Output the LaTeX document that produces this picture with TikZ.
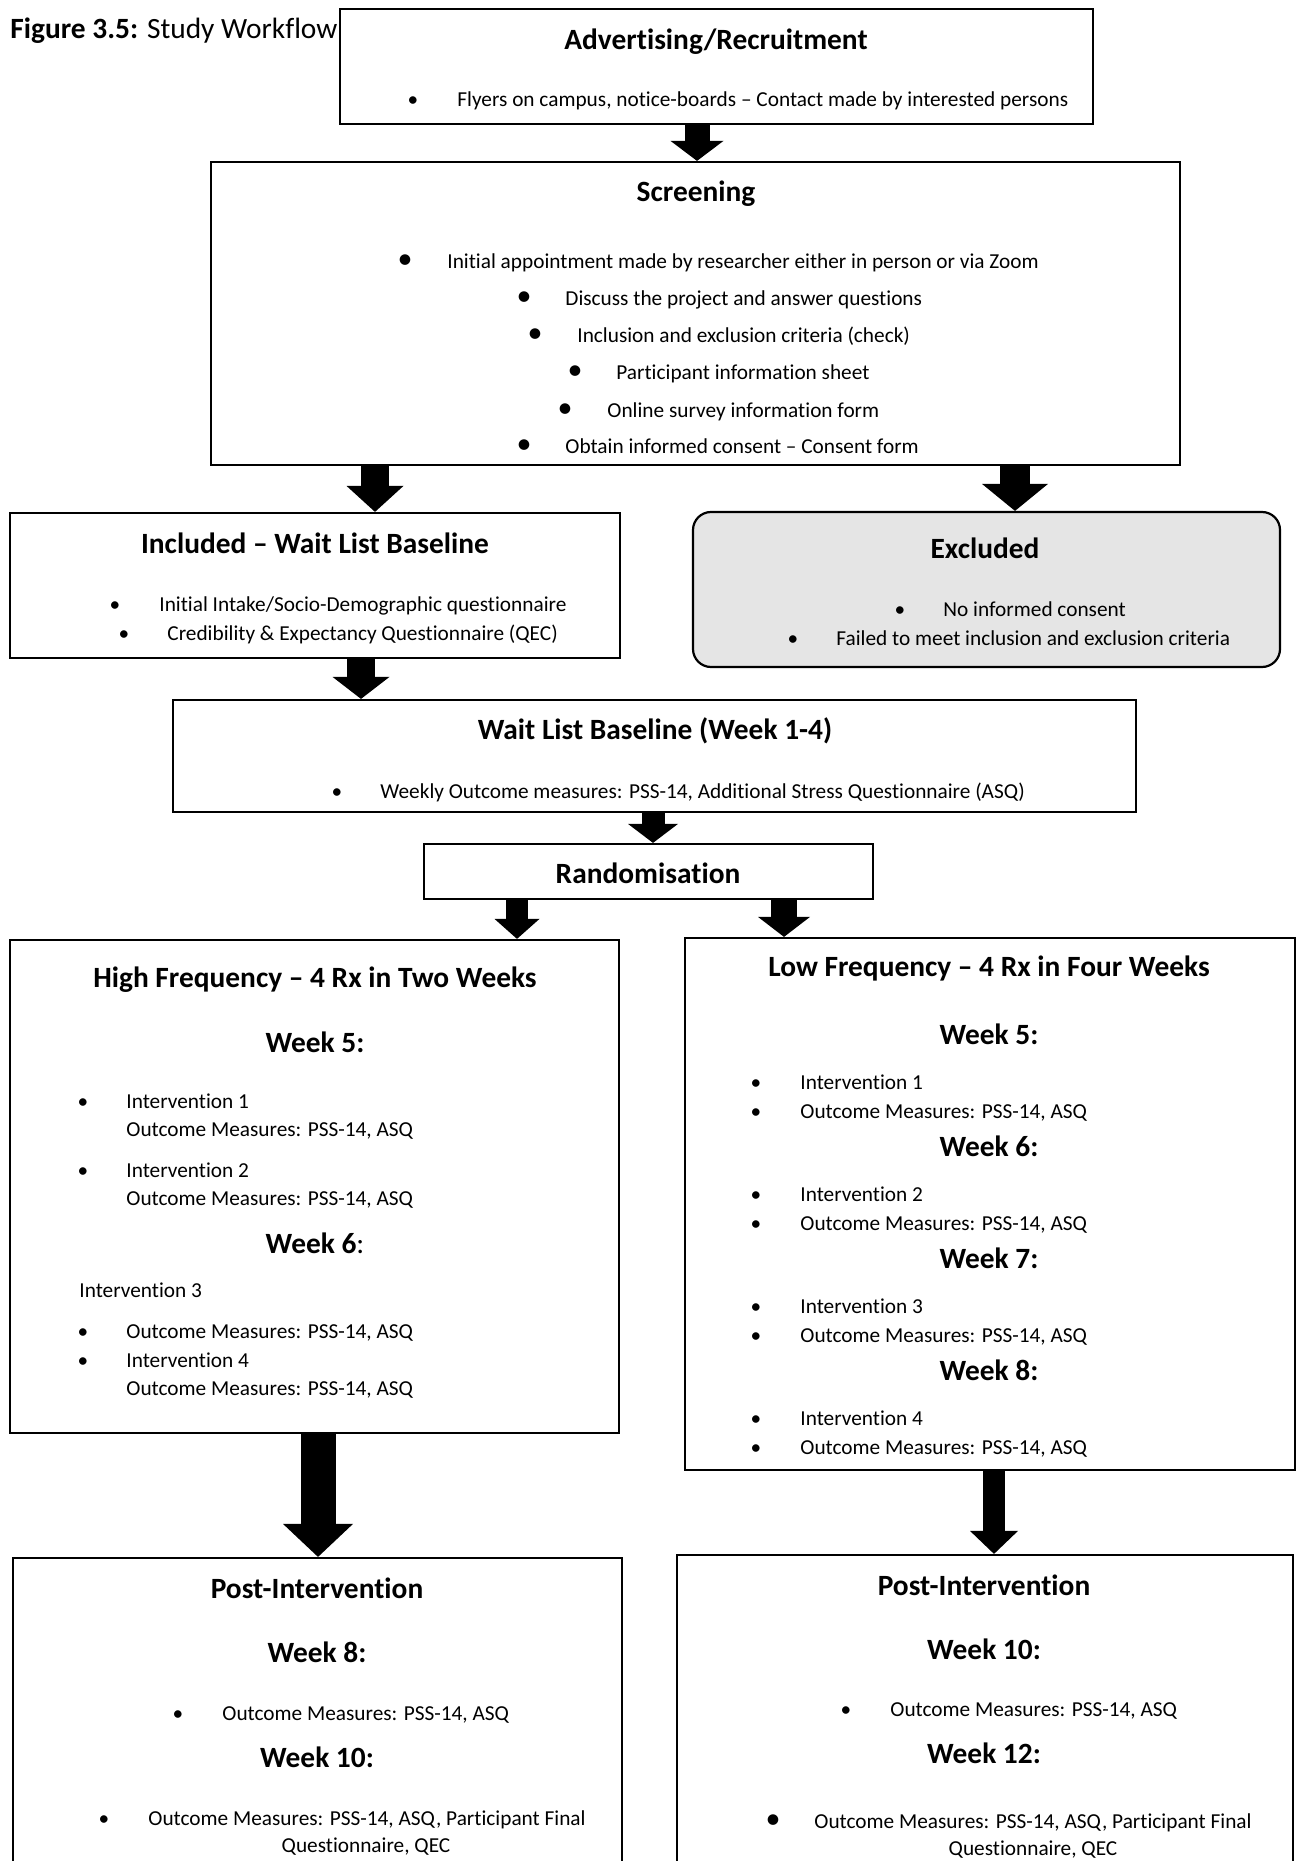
\documentclass[tikz,border=0pt]{standalone}
\usepackage{fontspec}
\setmainfont{Carlito}[Ligatures=NoCommon]
\usetikzlibrary{arrows.meta,fit}

\begin{document}
\begin{tikzpicture}[
  x=0.5pt, y=-0.5pt,
  font=\fontsize{10.65}{12.8}\selectfont,
  box/.style  = {draw=black, line width=1.1pt, inner sep=0pt},
  grey/.style = {rounded corners=9pt, fill=black!10},
  hd/.style   = {anchor=base, inner sep=0pt, font=\fontsize{14.7}{17}\selectfont\bfseries},
  txt/.style  = {anchor=base west, inner sep=0pt},
  ctr/.style  = {anchor=base, inner sep=0pt},
  bul/.style  = {anchor=base, inner sep=0pt},
  dot/.style  = {anchor=base, inner sep=0pt, font=\fontsize{15}{15}\selectfont},
  fat/.style n args={3}{line width=#1, -{Triangle[width=#2,length=#3,line width=0pt]}},
]
\useasboundingbox (0,0) rectangle (1300,1861);
\clip (0,0) rectangle (1300,1861);

\node[txt, font=\fontsize{14.7}{17}\selectfont] (title) at (10,39) {\textbf{Figure 3.5:} Study Workflow};

% ---- recruitment / screening -------------------------------------------------
\node[box, fit={(340,9) (1093,124)}] (advert) {};
\node[hd]  (advert-h) at (716,50)  {Advertising/Recruitment};
\node[bul] (advert-b) at (413,107) {•};
\node[txt] (advert-t) at (457,107) {Flyers on campus, notice-boards – Contact made by interested persons};

\node[box, fit={(211,162) (1180,465)}] (screen) {};
\node[hd] (screen-h) at (696,202) {Screening};
\foreach \bx/\tx/\yy/\lab [count=\i] in {
    405/447/269/{Initial appointment made by researcher either in person or via Zoom},
    524/565/306/{Discuss the project and answer questions},
    535/577/343/{Inclusion and exclusion criteria (check)},
    575/616/380/{Participant information sheet},
    565/607/418/{Online survey information form},
    524/565/454/{Obtain informed consent – Consent form}}
{
  \node[dot] (screen-b\i) at (\bx,\yy) {•};
  \node[txt] (screen-t\i) at (\tx,\yy) {\lab};
}

% ---- included / excluded -----------------------------------------------------
\node[box, fit={(10,513) (620,658)}] (incl) {};
\node[hd]  (incl-h)  at (315,553) {Included – Wait List Baseline};
\node[bul] (incl-b1) at (115,611) {•};
\node[txt] (incl-t1) at (159,611) {Initial Intake/Socio-Demographic questionnaire};
\node[bul] (incl-b2) at (124,640) {•};
\node[txt] (incl-t2) at (167,640) {Credibility \& Expectancy Questionnaire (QEC)};

\node[box, grey, fit={(693,512) (1280,667)}] (excl) {};
\node[hd]  (excl-h)  at (985,558) {Excluded};
\node[bul] (excl-b1) at (900,616) {•};
\node[txt] (excl-t1) at (943,616) {No informed consent};
\node[bul] (excl-b2) at (793,645) {•};
\node[txt] (excl-t2) at (836,645) {Failed to meet inclusion and exclusion criteria};

% ---- baseline / randomisation ------------------------------------------------
\node[box, fit={(173,700) (1136,812)}] (wait) {};
\node[hd]  (wait-h) at (655,739) {Wait List Baseline (Week 1-4)};
\node[bul] (wait-b) at (337,798) {•};
\node[txt] (wait-t) at (380,798) {Weekly Outcome measures: PSS-14, Additional Stress Questionnaire (ASQ)};

\node[box, fit={(424,844) (873,899)}] (rand) {};
\node[hd] (rand-h) at (648,883) {Randomisation};

% ---- high frequency arm ------------------------------------------------------
\node[box, fit={(10,940) (619,1433)}] (high) {};
\node[hd]  (high-h)  at (315,987)  {High Frequency – 4 Rx in Two Weeks};
\node[hd]  (high-w5) at (315,1052) {Week 5:};
\node[bul] (high-b1) at (83,1108)  {•};
\node[txt] (high-i1) at (126,1108) {Intervention 1};
\node[txt] (high-o1) at (126,1136) {Outcome Measures: PSS-14, ASQ};
\node[bul] (high-b2) at (83,1177)  {•};
\node[txt] (high-i2) at (126,1177) {Intervention 2};
\node[txt] (high-o2) at (126,1205) {Outcome Measures: PSS-14, ASQ};
\node[hd]  (high-w6) at (315,1253) {Week 6\textmd{:}};
\node[txt] (high-i3) at (79,1297)  {Intervention 3};
\node[bul] (high-b3) at (83,1338)  {•};
\node[txt] (high-o3) at (126,1338) {Outcome Measures: PSS-14, ASQ};
\node[bul] (high-b4) at (83,1367)  {•};
\node[txt] (high-i4) at (126,1367) {Intervention 4};
\node[txt] (high-o4) at (126,1395) {Outcome Measures: PSS-14, ASQ};

% ---- low frequency arm -------------------------------------------------------
\node[box, fit={(685,938) (1295,1470)}] (low) {};
\node[hd] (low-h) at (989,976) {Low Frequency – 4 Rx in Four Weeks};
\foreach \n/\yw in {1/1044, 2/1156, 3/1268, 4/1380}
{
  \pgfmathtruncatemacro{\wk}{\n+4}
  \node[hd]  (low-w\n)  at (989,\yw)    {Week \wk:};
  \node[bul] (low-bi\n) at (756,\yw+45) {•};
  \node[txt] (low-i\n)  at (800,\yw+45) {Intervention \n};
  \node[bul] (low-bo\n) at (756,\yw+74) {•};
  \node[txt] (low-o\n)  at (800,\yw+74) {Outcome Measures: PSS-14, ASQ};
}

% ---- post-intervention -------------------------------------------------------
\node[box, fit={(13,1558) (622,1900)}] (postl) {};
\node[hd]  (postl-h)   at (317,1598) {Post-Intervention};
\node[hd]  (postl-w8)  at (317,1662) {Week 8:};
\node[bul] (postl-b1)  at (178,1720) {•};
\node[txt] (postl-t1)  at (222,1720) {Outcome Measures: PSS-14, ASQ};
\node[hd]  (postl-w10) at (317,1767) {Week 10:};
\node[bul] (postl-b2)  at (104,1825) {•};
\node[txt] (postl-t2)  at (148,1825) {Outcome Measures: PSS-14, ASQ, Participant Final};
\node[ctr] (postl-t3)  at (366,1852) {Questionnaire, QEC};

\node[box, fit={(677,1555) (1293,1900)}] (postr) {};
\node[hd]  (postr-h)   at (984,1595) {Post-Intervention};
\node[hd]  (postr-w10) at (984,1659) {Week 10:};
\node[bul] (postr-b1)  at (846,1716) {•};
\node[txt] (postr-t1)  at (890,1716) {Outcome Measures: PSS-14, ASQ};
\node[hd]  (postr-w12) at (984,1763) {Week 12:};
\node[dot] (postr-b2)  at (773,1828) {•};
\node[txt] (postr-t2)  at (814,1828) {Outcome Measures: PSS-14, ASQ, Participant Final};
\node[ctr] (postr-t3)  at (1033,1855) {Questionnaire, QEC};

% ---- arrows ------------------------------------------------------------------
\draw[fat={12.5pt}{26.5pt}{10pt}]   (advert.south -| 697,0) -- (screen.north -| 697,0);
\draw[fat={14pt}{28.5pt}{13pt}]     (screen.south -| 375,0) -- (incl.north -| 375,0);
\draw[fat={15pt}{33pt}{13.5pt}]     (screen.south -| 1015,0) -- (excl.north -| 1015,0);
\draw[fat={14pt}{28.5pt}{11pt}]     (incl.south -| 361,0) -- (wait.north -| 361,0);
\draw[fat={11.5pt}{25pt}{9.5pt}]    (wait.south -| 653,0) -- (rand.north -| 653,0);
\draw[fat={11pt}{22.5pt}{10pt}]     (rand.south -| 517,0) -- (high.north -| 517,0);
\draw[fat={13pt}{26pt}{10pt}]       (rand.south -| 784,0) -- (low.north -| 784,0);
\draw[fat={17.5pt}{35pt}{16.5pt}]   (high.south -| 318,0) -- (postl.north -| 318,0);
\draw[fat={11pt}{24pt}{11.5pt}]     (low.south -| 994,0) -- (postr.north -| 994,0);

\end{tikzpicture}
\end{document}
